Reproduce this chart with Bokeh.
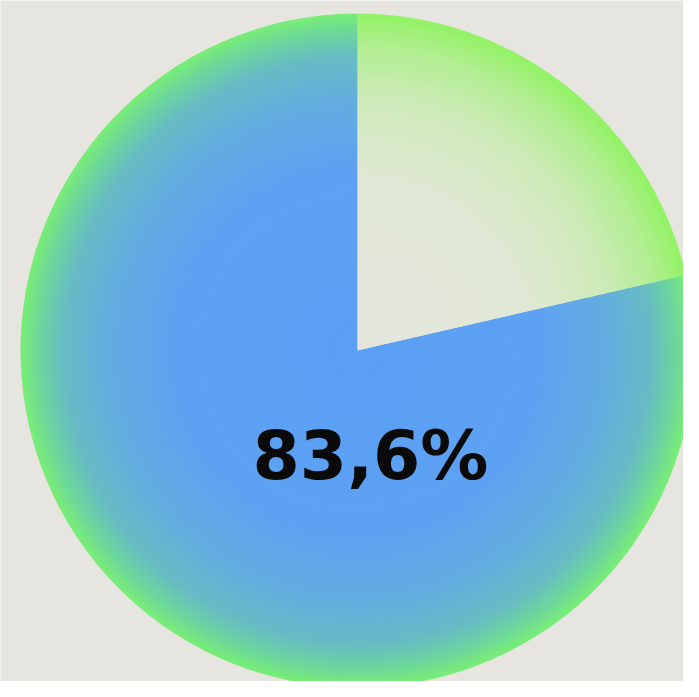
import numpy as np
from bokeh.plotting import figure
from bokeh.models import ColumnDataSource
from bokeh.core.properties import value
from bokeh.embed import file_html
from bokeh.resources import INLINE

# ---- data ----
slice_names = ["Filled", "Rest"]
slice_shares = [78.6, 21.4]          # share of the circle each wedge covers
center_label = "83,6%"

# ---- styling ----
BG = "#e6e5e0"
W, H = 683, 681
CX, CY = 357, H - 350
R = 337

grad_stops = {
    "Filled": [(0.0, "#5b9ff6"), (0.55, "#5da2f2"), (0.75, "#62addf"),
               (0.88, "#67bcc3"), (0.95, "#6cd69c"), (1.0, "#78ec78")],
    "Rest":   [(0.0, "#e4e6dd"), (0.5, "#e1e8d6"), (0.75, "#cfeaba"),
               (0.9, "#b3ee94"), (1.0, "#94f266")],
}

def hex2rgb(h):
    h = h.lstrip("#")
    return np.array([int(h[i:i + 2], 16) for i in (0, 2, 4)], dtype=float)

def interp_color(stops, t):
    for (t0, c0), (t1, c1) in zip(stops[:-1], stops[1:]):
        if t <= t1:
            f = (t - t0) / (t1 - t0) if t1 > t0 else 0
            c = hex2rgb(c0) * (1 - f) + hex2rgb(c1) * f
            return "#%02x%02x%02x" % tuple(int(round(v)) for v in c)
    return stops[-1][1]

p = figure(width=W, height=H, x_range=(0, W), y_range=(0, H),
           output_backend="svg", toolbar_location=None, min_border=0,
           background_fill_color=BG, border_fill_color=BG)
p.axis.visible = False
p.grid.visible = False
p.outline_line_color = None

# slices laid clockwise from 12 o'clock: "Rest" first, then "Filled"
total = sum(slice_shares)
angle_top = np.pi / 2
ang = {}
cur = angle_top
for name, share in zip(["Rest", "Filled"], [slice_shares[1], slice_shares[0]]):
    span = 2 * np.pi * share / total
    ang[name] = (cur - span, cur)
    cur -= span

N = 90
xs, ys, rs, sa, ea, cols = [], [], [], [], [], []
for k in range(N, 0, -1):
    t = k / N
    for name in slice_names:
        xs.append(CX); ys.append(CY)
        rs.append(R * t)
        sa.append(ang[name][0]); ea.append(ang[name][1])
        cols.append(interp_color(grad_stops[name], t))

src = ColumnDataSource(dict(x=xs, y=ys, r=rs, sa=sa, ea=ea, c=cols))
p.wedge(x="x", y="y", radius="r", start_angle="sa", end_angle="ea",
        fill_color="c", line_color=None, source=src)

p.text(x=[CX + 13], y=[H - 455], text=[center_label],
       text_font=value("DejaVu Sans"), text_font_style="bold",
       text_font_size="68px", text_color="#0a0a0a",
       text_align="center", text_baseline="middle")

html = file_html(p, INLINE)
html = html.replace("<body>", '<body style="background-color:%s;">' % BG, 1)
open("out.html", "w").write(html)
